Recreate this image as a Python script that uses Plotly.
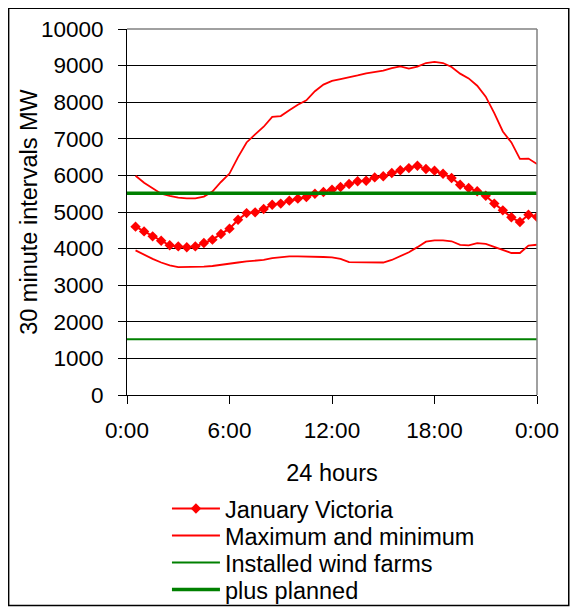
import plotly.graph_objects as go

# half-hour intervals, 0:30 .. 24:00
half_hours = [h / 2 for h in range(1, 49)]

january_vic = [4600, 4470, 4335, 4215, 4090, 4060, 4035, 4060, 4155, 4245,
               4400, 4545, 4790, 4970, 4990, 5080, 5200, 5230, 5310, 5365,
               5410, 5500, 5545, 5610, 5685, 5765, 5840, 5855, 5945, 5975,
               6065, 6140, 6200, 6265, 6175, 6130, 6045, 5930, 5745, 5655,
               5565, 5445, 5230, 5045, 4855, 4725, 4925, 4865]

demand_max = [5990, 5800, 5650, 5500, 5440, 5390, 5370, 5370, 5420, 5560,
              5820, 6050, 6500, 6900, 7120, 7330, 7600, 7620, 7780, 7930,
              8050, 8300, 8480, 8580, 8630, 8670, 8730, 8790, 8830, 8860,
              8930, 8980, 8920, 8970, 9070, 9100, 9070, 8960, 8780, 8650,
              8450, 8150, 7700, 7200, 6900, 6450, 6460, 6310]

demand_min = [3950, 3830, 3720, 3620, 3540, 3495, 3495, 3495, 3505, 3525,
              3550, 3575, 3620, 3650, 3665, 3690, 3740, 3770, 3787, 3787,
              3787, 3780, 3770, 3760, 3720, 3630, 3623, 3623, 3610, 3620,
              3690, 3790, 3900, 4040, 4190, 4224, 4224, 4200, 4100, 4088,
              4150, 4130, 4050, 3955, 3880, 3880, 4080, 4106]

wind_hours = [0, 24]
wind_installed = [1520, 1520]
wind_planned = [5510, 5510]

tick_hours = [0, 6, 12, 18, 24]
tick_labels = ['0:00', '6:00', '12:00', '18:00', '0:00']

# page has an 8px body margin, so the figure is a bit smaller than the window
W, H = 571, 606
L, R, T, B = 119, 529.5, 21.3, 387.3
FONT = 'Liberation Sans, Arial, sans-serif'


def px_x(x):
    return (x - L) / (R - L)


def px_y(y):
    return (B - y) / (B - T)


fig = go.Figure()

fig.add_trace(go.Scatter(
    x=half_hours, y=january_vic, mode='lines+markers', name='January Victoria',
    legend='legend',
    line=dict(color='#ff0000', width=2),
    marker=dict(symbol='diamond', size=8, color='#ff0000')))
fig.add_trace(go.Scatter(
    x=half_hours, y=demand_max, mode='lines', name='Maximum and minimum',
    legend='legend2', line=dict(color='#ff0000', width=1.8)))
fig.add_trace(go.Scatter(
    x=half_hours, y=demand_min, mode='lines', name='Maximum and minimum',
    legend='legend2', showlegend=False, line=dict(color='#ff0000', width=1.8)))
fig.add_trace(go.Scatter(
    x=wind_hours, y=wind_installed, mode='lines', name='Installed wind farms',
    legend='legend3', line=dict(color='#008000', width=2)))
fig.add_trace(go.Scatter(
    x=wind_hours, y=wind_planned, mode='lines', name='plus planned',
    legend='legend4', line=dict(color='#008000', width=3.5)))

fig.update_xaxes(
    range=[0, 24], tickvals=tick_hours, ticktext=tick_labels,
    showgrid=False, zeroline=False, showline=True, linecolor='black', linewidth=1,
    ticks='outside', ticklen=8, tickcolor='black', ticklabelstandoff=7,
    tickfont=dict(size=22.5),
    title=dict(text='24 hours', standoff=22, font=dict(size=23.5)))
fig.update_yaxes(
    range=[0, 10000], dtick=1000, tickformat='d',
    showgrid=True, gridcolor='black', gridwidth=1, zeroline=False,
    showline=True, linecolor='black', linewidth=1,
    ticks='outside', ticklen=8, tickcolor='black', ticklabelstandoff=10,
    tickfont=dict(size=22.5))

# y title placed as an annotation so it sits close to the tick labels
fig.add_annotation(text='30 minute intervals MW', textangle=-90,
                   xref='paper', yref='paper', x=px_x(20.7), y=0.5,
                   xanchor='center', yanchor='middle', showarrow=False,
                   font=dict(size=23.5))

# chart frame and grey plot-area border (top / right)
fig.add_shape(type='rect', xref='paper', yref='paper',
              x0=px_x(0.5), x1=px_x(561.3), y0=px_y(597.7), y1=px_y(0.5),
              line=dict(color='black', width=1.5))
fig.add_shape(type='line', xref='paper', yref='paper', x0=0, x1=1, y0=1, y1=1,
              line=dict(color='#808080', width=1.5))
fig.add_shape(type='line', xref='paper', yref='paper', x0=1, x1=1, y0=0, y1=1,
              line=dict(color='#808080', width=1.5))

legend_style = dict(xanchor='left', yanchor='middle', font=dict(size=23.5),
                    itemwidth=48, bgcolor='rgba(0,0,0,0)', borderwidth=0)
legend_x = px_x(159)

fig.update_layout(
    width=W, height=H,
    margin=dict(l=L, r=W - R, t=T, b=H - B, pad=0, autoexpand=False),
    paper_bgcolor='white', plot_bgcolor='white',
    font=dict(family=FONT, size=22.5, color='black'),
    showlegend=True,
    legend=dict(x=legend_x, y=px_y(501), **legend_style),
    legend2=dict(x=legend_x, y=px_y(528), **legend_style),
    legend3=dict(x=legend_x, y=px_y(555), **legend_style),
    legend4=dict(x=legend_x, y=px_y(582), **legend_style),
)

fig.write_html("out.html")
